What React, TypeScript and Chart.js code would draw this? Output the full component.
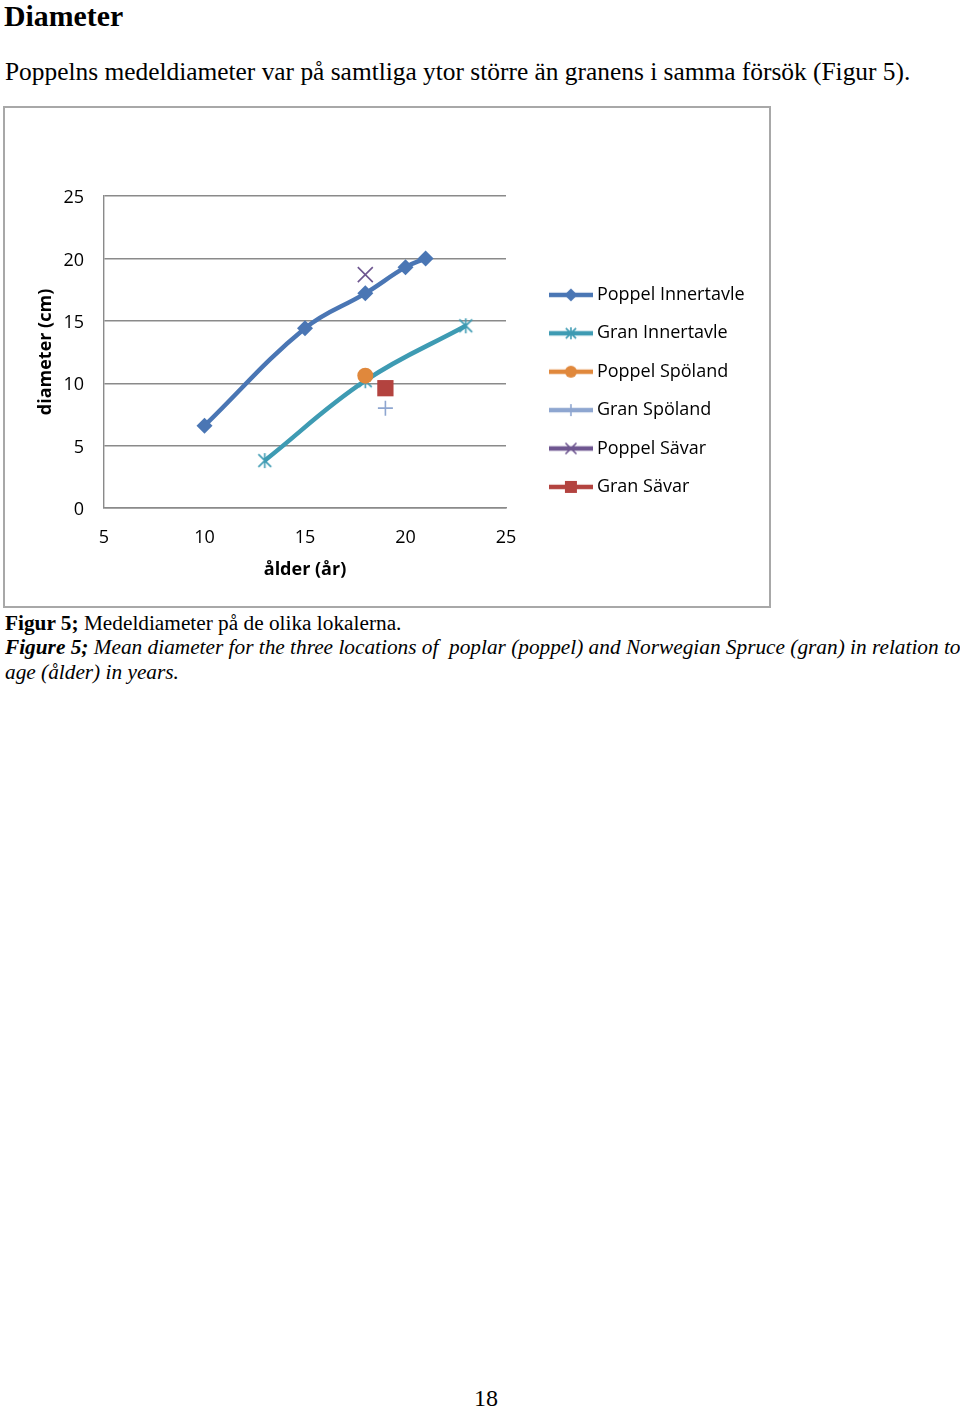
import React, { useEffect, useRef } from "react";
import { Chart, registerables } from "chart.js";

Chart.register(...registerables);

// ---------- data ----------
const seriesNames = [
  "Poppel Innertavle",
  "Gran Innertavle",
  "Poppel Spöland",
  "Gran Spöland",
  "Poppel Sävar",
  "Gran Sävar",
];
const poppelInnertavleAge = [10, 15, 18, 20, 21];
const poppelInnertavleDiam = [6.6, 14.4, 17.2, 19.3, 20.0];
const granInnertavleAge = [13, 18, 23];
const granInnertavleDiam = [3.8, 10.2, 14.6];
const poppelSpolandAge = [18];
const poppelSpolandDiam = [10.6];
const granSpolandAge = [19];
const granSpolandDiam = [8.0];
const poppelSavarAge = [18];
const poppelSavarDiam = [18.7];
const granSavarAge = [19];
const granSavarDiam = [9.6];

const xTicks = [5, 10, 15, 20, 25];
const yTicks = [0, 5, 10, 15, 20, 25];

const xTitle = "ålder (år)";
const yTitle = "diameter (cm)";

// ---------- styles ----------
const seriesColors = ["#4A76B4", "#3E9BB3", "#E0883C", "#8EA6D0", "#6E5690", "#B3433F"];
const seriesMarkers = ["diamond", "asterisk", "circle", "plus", "x", "square"];
const gridColor = "#8a8a8a";
const chartFont = "'Open Sans', 'Noto Sans', sans-serif";

function drawMarker(
  ctx: CanvasRenderingContext2D,
  kind: string,
  cx: number,
  cy: number,
  s: number,
  color: string
) {
  ctx.save();
  ctx.fillStyle = color;
  ctx.strokeStyle = color;
  ctx.lineWidth = 1.6;
  ctx.lineCap = "butt";
  ctx.beginPath();
  switch (kind) {
    case "diamond":
      ctx.moveTo(cx, cy - s);
      ctx.lineTo(cx + s, cy);
      ctx.lineTo(cx, cy + s);
      ctx.lineTo(cx - s, cy);
      ctx.closePath();
      ctx.fill();
      break;
    case "circle":
      ctx.arc(cx, cy, s, 0, Math.PI * 2);
      ctx.fill();
      break;
    case "square":
      ctx.rect(cx - s, cy - s, 2 * s, 2 * s);
      ctx.fill();
      break;
    case "plus":
      ctx.moveTo(cx - s, cy);
      ctx.lineTo(cx + s, cy);
      ctx.moveTo(cx, cy - s);
      ctx.lineTo(cx, cy + s);
      ctx.stroke();
      break;
    case "x":
      ctx.moveTo(cx - s, cy - s);
      ctx.lineTo(cx + s, cy + s);
      ctx.moveTo(cx + s, cy - s);
      ctx.lineTo(cx - s, cy + s);
      ctx.stroke();
      break;
    case "asterisk":
      ctx.moveTo(cx - s * 0.85, cy - s * 0.85);
      ctx.lineTo(cx + s * 0.85, cy + s * 0.85);
      ctx.moveTo(cx + s * 0.85, cy - s * 0.85);
      ctx.lineTo(cx - s * 0.85, cy + s * 0.85);
      ctx.moveTo(cx, cy - s);
      ctx.lineTo(cx, cy + s);
      ctx.stroke();
      break;
  }
  ctx.restore();
}

function makeAsterisk(color: string, s: number) {
  const c = document.createElement("canvas");
  const size = Math.ceil(2 * s + 4);
  c.width = size;
  c.height = size;
  const ctx = c.getContext("2d")!;
  drawMarker(ctx, "asterisk", size / 2, size / 2, s, color);
  return c;
}

function makeLegendImage(kind: string, color: string) {
  const c = document.createElement("canvas");
  c.width = 44;
  c.height = 18;
  const ctx = c.getContext("2d")!;
  ctx.strokeStyle = color;
  ctx.lineWidth = 4.5;
  ctx.beginPath();
  ctx.moveTo(0, 9);
  ctx.lineTo(44, 9);
  ctx.stroke();
  const sizes: Record<string, number> = {
    diamond: 6.5,
    circle: 6,
    square: 6,
    plus: 6,
    x: 5.5,
    asterisk: 6,
  };
  drawMarker(ctx, kind, 22, 9, sizes[kind], color);
  return c;
}

function pts(xs: number[], ys: number[]) {
  return xs.map((x, i) => ({ x, y: ys[i] }));
}

function ChartBox() {
  const ref = useRef<HTMLCanvasElement | null>(null);
  useEffect(() => {
    if (!ref.current) return;
    const legendImgs = seriesMarkers.map((m, i) => makeLegendImage(m, seriesColors[i]));
    const asterisk = makeAsterisk(seriesColors[1], 7.5);

    const legendPlacer = {
      id: "legendPlacer",
      afterLayout(chart: any) {
        const lg = chart.legend;
        if (!lg) return;
        lg.left = 528.5;
        lg.right = 528.5 + lg.width;
        lg.top = 157.5;
        lg.bottom = 157.5 + 330;
        lg.height = 330;
      },
    };

    const allData = [
      pts(poppelInnertavleAge, poppelInnertavleDiam),
      pts(granInnertavleAge, granInnertavleDiam),
      pts(poppelSpolandAge, poppelSpolandDiam),
      pts(granSpolandAge, granSpolandDiam),
      pts(poppelSavarAge, poppelSavarDiam),
      pts(granSavarAge, granSavarDiam),
    ];
    const pointStyles: any[] = ["rectRot", asterisk, "circle", "cross", "crossRot", "rect"];
    const radii = [8, 8, 8, 7.5, 10.6, 11.5];

    const chart = new Chart(ref.current, {
      type: "line",
      data: {
        datasets: seriesNames.map((name, i) => ({
          label: name,
          data: allData[i],
          borderColor: seriesColors[i],
          backgroundColor: seriesColors[i],
          pointBackgroundColor: seriesColors[i],
          pointBorderColor: seriesColors[i],
          pointBorderWidth: i === 3 || i === 4 ? 1.6 : 0,
          borderWidth: 4.5,
          tension: 0.4,
          pointStyle: pointStyles[i],
          pointRadius: radii[i],
          pointHoverRadius: radii[i],
          order: seriesNames.length - i,
        })),
      },
      options: {
        animation: false,
        responsive: false,
        events: [],
        layout: { padding: { left: 0, top: 88, right: 263, bottom: 0 } },
        scales: {
          x: {
            type: "linear",
            min: 5,
            max: 25,
            afterFit: (s: any) => {
              s.height = 98;
            },
            afterBuildTicks: (s: any) => {
              s.ticks = xTicks.map((v) => ({ value: v }));
            },
            grid: { display: false, drawTicks: false },
            border: { display: true, color: gridColor, width: 1.4 },
            ticks: {
              padding: 19,
              color: "#000",
              font: { family: chartFont, size: 18 },
              maxRotation: 0,
            },
            title: {
              display: true,
              text: xTitle,
              color: "#000",
              font: { family: chartFont, size: 18, weight: "bold" },
              padding: { top: 0, bottom: 25 },
            },
          },
          y: {
            type: "linear",
            min: 0,
            max: 25,
            afterFit: (s: any) => {
              s.width = 99;
            },
            afterBuildTicks: (s: any) => {
              s.ticks = yTicks.map((v) => ({ value: v }));
            },
            grid: { color: gridColor, lineWidth: 1.4, drawTicks: false },
            border: { display: true, color: gridColor, width: 1.4 },
            ticks: {
              padding: 20,
              labelOffset: 2,
              color: "#000",
              font: { family: chartFont, size: 18 },
            },
            title: {
              display: true,
              text: yTitle,
              color: "#000",
              font: { family: chartFont, size: 18, weight: "bold" },
              padding: { top: 30, bottom: 0 },
            },
          },
        },
        plugins: {
          tooltip: { enabled: false },
          legend: {
            display: true,
            position: "chartArea",
            align: "start",
            labels: {
              usePointStyle: true,
              pointStyleWidth: 34,
              padding: 20.4,
              color: "#000",
              font: { family: chartFont, size: 18 },
              generateLabels: () =>
                seriesNames.map((name, i) => ({
                  text: name,
                  pointStyle: legendImgs[i] as any,
                  fillStyle: seriesColors[i],
                  strokeStyle: seriesColors[i],
                  lineWidth: 0,
                  hidden: false,
                  datasetIndex: i,
                  fontColor: "#000",
                })),
            },
          },
        },
      } as any,
      plugins: [legendPlacer],
    });
    return () => chart.destroy();
  }, []);
  return (
    <canvas
      ref={ref}
      width={764}
      height={498}
      style={{ display: "block", width: 764, height: 498 }}
    />
  );
}

const serif = "'Liberation Serif', 'Times New Roman', serif";

function Line(props: { top: number; left: number; size: number; children: any; style?: any }) {
  return (
    <div
      style={{
        position: "absolute",
        top: props.top,
        left: props.left,
        fontSize: props.size,
        lineHeight: props.size + "px",
        whiteSpace: "pre",
        fontFamily: serif,
        color: "#000",
        ...(props.style || {}),
      }}
    >
      {props.children}
    </div>
  );
}

export default function App() {
  return (
    <div
      style={{
        position: "absolute",
        left: 0,
        top: 0,
        width: 960,
        height: 1409,
        overflow: "hidden",
        background: "#fff",
      }}
    >
      <Line top={0.8} left={4} size={29.8} style={{ fontWeight: "bold" }}>
        Diameter
      </Line>
      <Line top={59} left={5} size={25.4}>
        Poppelns medeldiameter var på samtliga ytor större än granens i samma försök (Figur 5).
      </Line>
      <div
        style={{
          position: "absolute",
          left: 3,
          top: 106,
          width: 768,
          height: 502,
          border: "2px solid #a8a8a8",
          boxSizing: "border-box",
          background: "#fff",
        }}
      >
        <ChartBox />
      </div>
      <Line top={612.7} left={5} size={21.3}>
        <b>Figur 5;</b> Medeldiameter på de olika lokalerna.
      </Line>
      <Line top={637.2} left={5} size={21.3} style={{ fontStyle: "italic" }}>
        <b>Figure 5;</b> Mean diameter for the three locations of  poplar (poppel) and Norwegian Spruce (gran) in relation to
      </Line>
      <Line top={661.7} left={5} size={21.3} style={{ fontStyle: "italic" }}>
        age (ålder) in years.
      </Line>
      <Line top={1385.9} left={474} size={24}>
        18
      </Line>
    </div>
  );
}
